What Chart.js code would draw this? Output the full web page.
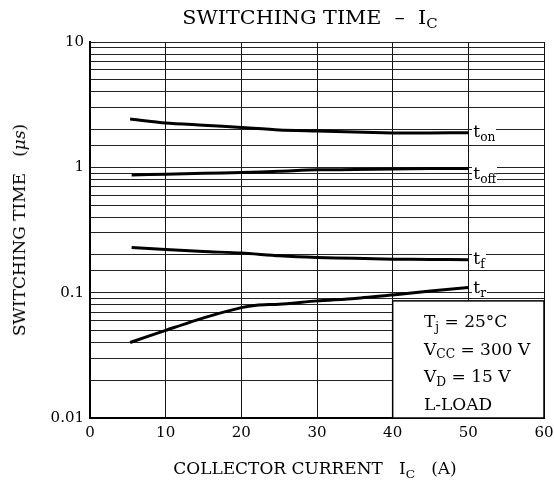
<!DOCTYPE html>
<html>
<head>
<meta charset="utf-8">
<script src="https://cdn.jsdelivr.net/npm/chart.js@4"></script>
<style>
  html,body{margin:0;padding:0;background:#fff;}
  #wrap{position:relative;width:554px;height:483px;overflow:hidden;}
  canvas{position:absolute;left:0;top:0;}
  .t{position:absolute;font-family:"DejaVu Serif",serif;color:#000;white-space:nowrap;line-height:1;}
  .sub{font-size:0.72em;position:relative;top:0.32em;}
  .lbl{background:#fff;padding:0 1px;}
</style>
</head>
<body>
<div id="wrap">
  <canvas id="c" width="554" height="483"></canvas>
  <div class="t" id="title" style="font-size:18px;left:310px;top:18px;transform:translate(-50%,-50%) scaleX(1.15);">SWITCHING TIME &nbsp;–&nbsp; I<span class="sub">C</span></div>
  <div class="t" id="xtitle" style="font-size:16px;left:315px;top:469px;transform:translate(-50%,-50%) scaleX(1.06);">COLLECTOR CURRENT &nbsp;&nbsp;I<span class="sub">C</span> &nbsp;&nbsp;(A)</div>
  <div class="t" id="ytitle" style="font-size:16px;left:20px;top:230px;transform:translate(-50%,-50%) rotate(-90deg) scaleX(1.06);">SWITCHING TIME &nbsp;&nbsp;(<i>μs</i>)</div>
  <div class="t" id="cond" style="font-size:17px;line-height:25.5px;left:424px;top:309px;">
    T<span class="sub">j</span> = 25°C<br>
    V<span class="sub">CC</span> = 300 V<br>
    V<span class="sub">D</span> = 15 V<br>
    L-LOAD
  </div>
</div>
<script>
// ---- data ----
const xTicks = [0, 10, 20, 30, 40, 50, 60];
const yTickLabels = { "10": "10", "1": "1", "0.1": "0.1", "0.01": "0.01" };

const tonX  = [5.3, 10, 15, 20, 25, 30, 35, 40, 45, 50];
const tonY  = [2.43, 2.26, 2.17, 2.08, 1.99, 1.95, 1.91, 1.88, 1.88, 1.89];

const toffX = [5.5, 10, 15, 20, 25, 30, 35, 40, 45, 50];
const toffY = [0.87, 0.88, 0.895, 0.91, 0.93, 0.955, 0.96, 0.97, 0.98, 0.98];

const tfX   = [5.5, 10, 15, 20, 25, 30, 35, 40, 45, 50];
const tfY   = [0.229, 0.221, 0.213, 0.207, 0.197, 0.191, 0.188, 0.185, 0.184, 0.183];

const trX   = [5.3, 10, 15, 20, 22, 25, 30, 35, 40, 45, 50];
const trY   = [0.040, 0.050, 0.063, 0.076, 0.0795, 0.081, 0.086, 0.090, 0.096, 0.103, 0.110];

const curveNames  = ["t", "t", "t", "t"];
const curveSubs   = ["on", "off", "f", "r"];
const curveLabelY = [1.89, 0.87, 0.183, 0.107];

const condBox = { xMin: 40, xMax: 60, yMin: 0.01, yMax: 0.086 };

// ---- build ----
function pts(xs, ys){ return xs.map((x,i)=>({x:x, y:ys[i]})); }
const lineStyle = { borderColor:'#000', borderWidth:3, pointRadius:0, tension:0.25, fill:false, borderJoinStyle:'round', borderCapStyle:'butt' };

const boxPlugin = {
  id:'condBox',
  beforeDatasetsDraw(chart){
    const {ctx, scales:{x,y}} = chart;
    const l = x.getPixelForValue(condBox.xMin), r = x.getPixelForValue(condBox.xMax);
    const t = y.getPixelForValue(condBox.yMax), b = y.getPixelForValue(condBox.yMin);
    ctx.save();
    ctx.fillStyle = '#fff';
    ctx.fillRect(l, t, r-l, b-t);
    ctx.strokeStyle = '#000';
    ctx.lineWidth = 1.5;
    ctx.strokeRect(l, t, r-l, b-t);
    ctx.restore();
  }
};

const chart = new Chart(document.getElementById('c'), {
  type: 'line',
  data: {
    datasets: [
      Object.assign({ label:'ton',  data: pts(tonX, tonY) }, lineStyle),
      Object.assign({ label:'toff', data: pts(toffX, toffY) }, lineStyle),
      Object.assign({ label:'tf',   data: pts(tfX, tfY) }, lineStyle),
      Object.assign({ label:'tr',   data: pts(trX, trY) }, lineStyle)
    ]
  },
  options: {
    responsive:false,
    devicePixelRatio:1,
    animation:false,
    layout:{ padding:{ top:42, right:10, left:0, bottom:0 } },
    plugins:{ legend:{display:false}, tooltip:{enabled:false}, title:{display:false} },
    scales:{
      x:{
        type:'linear', min:0, max:60,
        afterBuildTicks(s){ s.ticks = xTicks.map(v=>({value:v})); },
        afterFit(s){ s.height = 65; s.paddingRight = 0; s.paddingLeft = 0; },
        ticks:{ color:'#000', padding:6, font:{family:'DejaVu Serif', size:15}, maxRotation:0 },
        grid:{ color:'#111', lineWidth:1, drawTicks:false },
        border:{ color:'#000', width:2 }
      },
      y:{
        type:'logarithmic', min:0.01, max:10,
        afterFit(s){ s.width = 90; },
        ticks:{
          autoSkip:false, color:'#000', padding:6,
          font:{family:'DejaVu Serif', size:15},
          callback(v){ const k = String(+v.toPrecision(6)); return yTickLabels[k] !== undefined ? yTickLabels[k] : ''; }
        },
        grid:{ color:'#222', lineWidth:1, drawTicks:false },
        border:{ color:'#000', width:2 }
      }
    }
  },
  plugins:[boxPlugin]
});

// curve labels positioned by scales
const wrap = document.getElementById('wrap');
const xs = chart.scales.x, ys = chart.scales.y;
curveNames.forEach((n,i)=>{
  const d = document.createElement('div');
  d.className = 't lbl';
  d.style.fontSize = '17px';
  d.innerHTML = n + '<span class="sub">' + curveSubs[i] + '</span>';
  d.style.left = (xs.getPixelForValue(50) + 4) + 'px';
  d.style.top = ys.getPixelForValue(curveLabelY[i]) + 'px';
  d.style.transform = 'translateY(-60%)';
  wrap.appendChild(d);
});
</script>
</body>
</html>
